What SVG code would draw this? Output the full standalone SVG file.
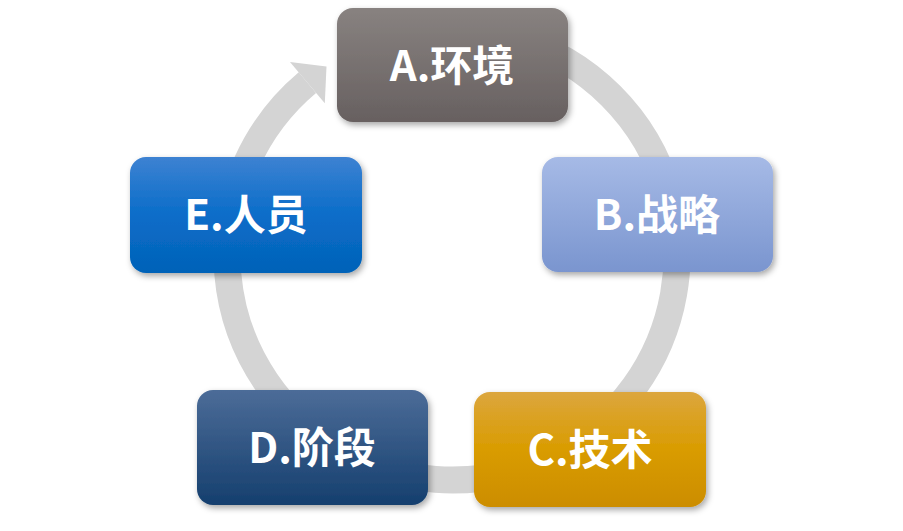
<svg xmlns="http://www.w3.org/2000/svg" width="903" height="531" viewBox="0 0 903 531">
<defs>
<linearGradient id="gA" x1="0" y1="0" x2="0" y2="1"><stop offset="0" stop-color="#888280"/><stop offset="1" stop-color="#676060"/></linearGradient>
<linearGradient id="gB" x1="0" y1="0" x2="0" y2="1"><stop offset="0" stop-color="#a6bae6"/><stop offset="1" stop-color="#7a95cf"/></linearGradient>
<linearGradient id="gC" x1="0" y1="0" x2="0" y2="1"><stop offset="0" stop-color="#dca63e"/><stop offset="0.5" stop-color="#d99c00"/><stop offset="1" stop-color="#cc8d00"/></linearGradient>
<linearGradient id="gD" x1="0" y1="0" x2="0" y2="1"><stop offset="0" stop-color="#4c6c98"/><stop offset="1" stop-color="#153f6e"/></linearGradient>
<linearGradient id="gE" x1="0" y1="0" x2="0" y2="1"><stop offset="0" stop-color="#3d82d2"/><stop offset="0.5" stop-color="#0a6dc9"/><stop offset="1" stop-color="#0362b8"/></linearGradient>
<filter id="sh" x="-10%" y="-10%" width="125%" height="130%"><feDropShadow dx="2" dy="3" stdDeviation="3" flood-color="#000" flood-opacity="0.35"/></filter>
</defs>
<style>
.box{filter:url(#sh)}
.t{font-family:"Noto Sans CJK SC","Liberation Sans",sans-serif;font-weight:bold;font-size:42px;fill:#fff;text-anchor:middle}
.ring{fill:none;stroke:#d4d4d4;stroke-width:27}
</style>
<g id="connectors">
<path class="ring" d="M412.9 33.4 A225 225 0 1 1 307.4 82.6"/>
<polygon fill="#d4d4d4" points="290,62 326.5,66.5 324.8,103.3"/>
</g>
<g id="nodeA"><rect class="box" x="337" y="8" width="231" height="114" rx="16" fill="url(#gA)"/><text class="t" x="452" y="81">A.环境</text></g>
<g id="nodeB"><rect class="box" x="542" y="157" width="231" height="115" rx="16" fill="url(#gB)"/><text class="t" x="657" y="230">B.战略</text></g>
<g id="nodeC"><rect class="box" x="474" y="392" width="232" height="115" rx="16" fill="url(#gC)"/><text class="t" x="590" y="465">C.技术</text></g>
<g id="nodeD"><rect class="box" x="197" y="390" width="231" height="115" rx="16" fill="url(#gD)"/><text class="t" x="312" y="463">D.阶段</text></g>
<g id="nodeE"><rect class="box" x="130" y="157" width="232" height="116" rx="16" fill="url(#gE)"/><text class="t" x="246" y="230">E.人员</text></g>
</svg>
